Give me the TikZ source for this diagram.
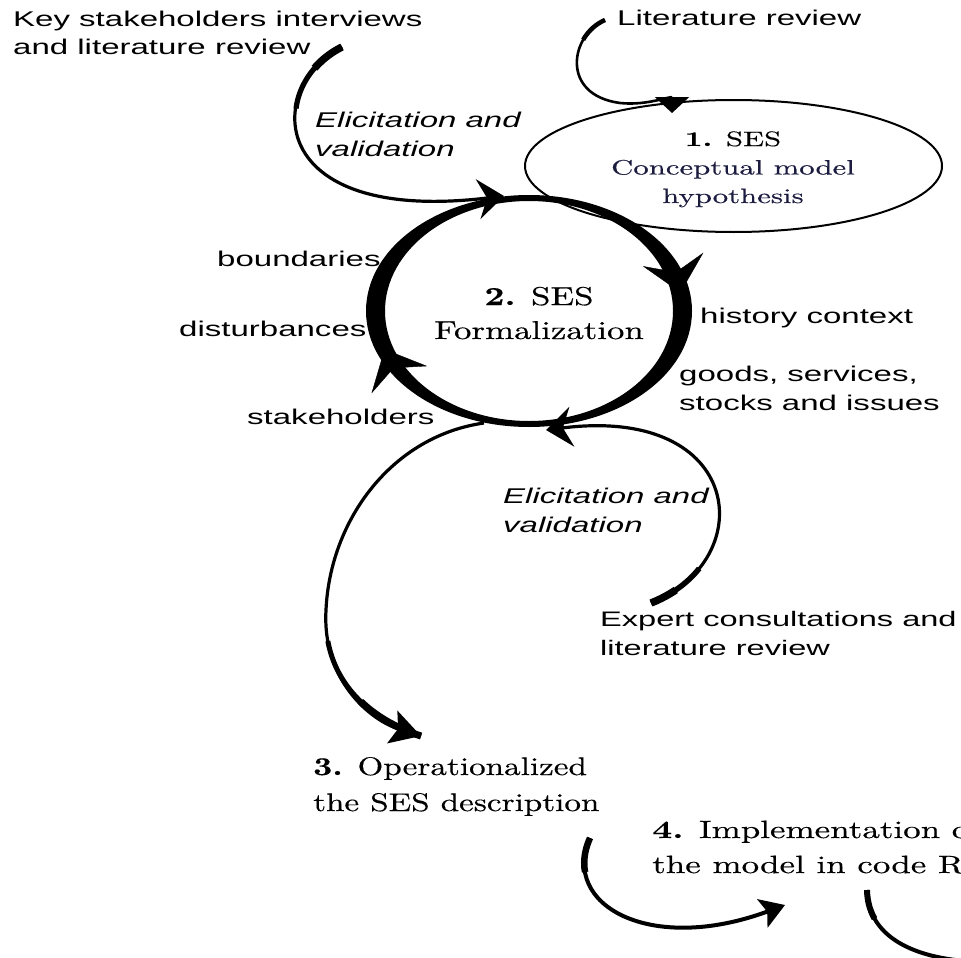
\documentclass[tikz,border=0pt]{standalone}
\usepackage{fontspec}
\setmainfont{lmroman10}[Extension=.otf, UprightFont=*-regular, BoldFont=*-bold, ItalicFont=*-italic, FakeStretch=1.55]
\setsansfont{Liberation Sans}[FakeStretch=1.55]
\newfontfamily\hypfont{lmroman10}[Extension=.otf, UprightFont=*-regular, BoldFont=*-bold, FakeStretch=1.48, FakeBold=0.4]
\newfontfamily\sesfont{lmroman10}[Extension=.otf, UprightFont=*-regular, BoldFont=*-bold, FakeStretch=1.35, FakeBold=0.4]
\newfontfamily\opfont{lmroman10}[Extension=.otf, UprightFont=*-regular, BoldFont=*-bold, FakeStretch=1.3, FakeBold=0.4]
\newfontfamily\implfont{lmroman10}[Extension=.otf, UprightFont=*-regular, BoldFont=*-bold, FakeStretch=1.4, FakeBold=0.4]
\usepackage{tikz}
\usetikzlibrary{arrows.meta, positioning, shapes.geometric, decorations.markings}
\definecolor{hypnavy}{RGB}{28,28,64}

\tikzset{
  lbl/.style={font=\sffamily\fontsize{21.3}{28.5}\selectfont, inner sep=0pt, align=left, anchor=base west},
  itl/.style={lbl, font=\sffamily\itshape\fontsize{21.3}{28.5}\selectfont},
  steptext/.style={inner sep=0pt, align=left, anchor=base west},
  flow/.style={line width=3.2pt},
  ringtip/.tip={Stealth[length=34pt,width=62pt,inset=13pt]},
  midtip/.tip={Stealth[length=26pt,width=40pt,inset=9pt]},
}

\begin{document}
\begin{tikzpicture}[x=1pt, y=-1pt]
  \useasboundingbox (0,0) rectangle (961,958);
  \clip (0,0) rectangle (961,958);

  % labels (multi-line nodes sit on their last baseline)
  \node[lbl] (keyText) at (13,55) {Key stakeholders interviews\\and literature review};
  \node[lbl] (litText) at (617,26) {Literature review};
  \node[itl] (elicitTop) at (315,156) {Elicitation and\\validation};
  \node[lbl] (bndText) at (217,266) {boundaries};
  \node[lbl] (distText) at (179,336) {disturbances};
  \node[lbl] (stakeText) at (247,424) {stakeholders};
  \node[lbl] (histText) at (700,323) {history context};
  \node[lbl] (goodsText) at (679,410) {goods, services,\\stocks and issues};
  \node[itl] (elicitLow) at (503,532) {Elicitation and\\validation};
  \node[lbl, font=\sffamily\fontsize{21}{28.5}\selectfont] (expText) at (600,655) {Expert consultations and\\literature review};

  % step 1
  \node[ellipse, draw, line width=2pt, minimum width=417pt, minimum height=132pt, inner sep=0pt] (hyp) at (733.5,166) {};
  \node[steptext, anchor=base, align=center, font=\hypfont\fontsize{20.8}{28.5}\selectfont] (hypText) at (733,203)
    {\textbf{1.} SES\\\textcolor{hypnavy}{Conceptual model}\\\textcolor{hypnavy}{hypothesis}};

  % step 2 ring
  \coordinate (ringc) at (529,311);
  \fill[even odd rule] (ringc) ellipse [x radius=163, y radius=116] (ringc) ellipse [x radius=144, y radius=110];
  \path[decorate, decoration={markings,
      mark=at position 0.453 with {\arrow{ringtip}},
      mark=at position 0.978 with {\arrow{ringtip}}}]
    (ringc) ellipse [x radius=153.5, y radius=113];
  \node[steptext, anchor=base, align=center, font=\sesfont\fontsize{25.8}{34}\selectfont] (sesText) at (539,339)
    {\textbf{2.} SES\\Formalization};

  % steps 3 and 4
  \node[steptext, font=\opfont\fontsize{25.5}{36}\selectfont] (opText) at (313,811)
    {\textbf{3.} Operationalized\\the SES description};
  \node[steptext, font=\implfont\fontsize{25}{35}\selectfont] (implText) at (652,873)
    {\textbf{4.} Implementation of\\the model in code R};

  % connectors
  \coordinate (ksStart) at (342,47);
  \coordinate (ksEnd) at (504,196);
  \draw[flow, -{midtip}] (ksStart) .. controls (265,85) and (262,225) .. (ksEnd);
  \foreach \w/\l in {5.2/80, 7.5/35}
    \draw[line width=\w pt, dash pattern=on \l pt off 2000pt] (ksStart) .. controls (265,85) and (262,225) .. (ksEnd);

  \coordinate (litStart) at (605,20);
  \coordinate (hypTip) at (672,113);
  \draw[flow, line width=2.6pt, -{Triangle[length=16pt,width=34pt]}] (litStart) .. controls (570,35) and (560,95) .. (620,103) .. controls (648,106) and (672,95) .. (hypTip);
  \draw[line width=4.5pt, dash pattern=on 30pt off 2000pt] (litStart) .. controls (570,35) and (560,95) .. (620,103);

  \coordinate (expStart) at (651,603);
  \coordinate (expEnd) at (546,430);
  \draw[flow, -{midtip}] (expStart) .. controls (760,560) and (745,405) .. (expEnd);
  \foreach \w/\l in {5.5/60, 7.5/28}
    \draw[line width=\w pt, dash pattern=on \l pt off 2000pt] (expStart) .. controls (760,560) and (745,405) .. (expEnd);

  \coordinate (opStart) at (484,423);
  \coordinate (opTip) at (421,736);
  \draw[flow, -{Stealth[length=30pt,width=34pt,inset=6pt]}] (opStart) .. controls (392,436) and (330,520) .. (326,610) .. controls (322,680) and (370,720) .. (opTip);
  \foreach \w/\l in {5/140, 7/70}
    \draw[line width=\w pt, dash pattern=on \l pt off 2000pt] (opTip) .. controls (370,720) and (322,680) .. (326,610);

  \coordinate (implStart) at (590,838);
  \coordinate (implTip) at (785,905);
  \draw[flow, line width=4pt, -{Stealth[length=24pt,width=30pt,inset=5pt]}] (implStart) .. controls (560,905) and (650,955) .. (implTip);
  \draw[line width=6.5pt, dash pattern=on 35pt off 2000pt] (implStart) .. controls (560,905) and (650,955) .. (implTip);

  \coordinate (codeStart) at (867,890);
  \coordinate (codeEnd) at (990,962);
  \draw[flow, line width=4pt] (codeStart) .. controls (868,940) and (920,962) .. (codeEnd);
  \draw[line width=6pt, dash pattern=on 30pt off 2000pt] (codeStart) .. controls (868,940) and (920,962) .. (codeEnd);
\end{tikzpicture}
\end{document}
